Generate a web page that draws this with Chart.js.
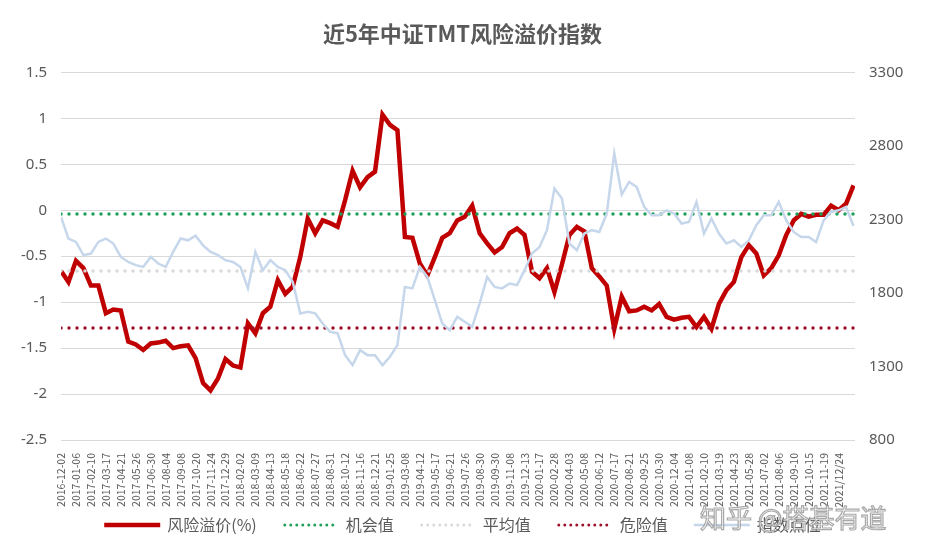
<!DOCTYPE html>
<html>
<head>
    <meta charset="UTF-8">
    <title>近5年中证TMT风险溢价指数</title>
    <script src="https://cdn.jsdelivr.net/npm/chart.js"></script>
    <style>
        html, body { margin: 0; padding: 0; background: #fff; }
        #wrap { width: 925px; height: 557px; }
    </style>
</head>
<body>
<div id="wrap"><canvas id="tmtChart"></canvas></div>

<script>
    // tick labels on the date axis (one every 5 weeks)
    const dateLabels = [
        '2016-12-02', '2017-01-06', '2017-02-10', '2017-03-17', '2017-04-21', '2017-05-26', '2017-06-30',
        '2017-08-04', '2017-09-08', '2017-10-20', '2017-11-24', '2017-12-29', '2018-02-02', '2018-03-09',
        '2018-04-13', '2018-05-18', '2018-06-22', '2018-07-27', '2018-08-31', '2018-10-12', '2018-11-16',
        '2018-12-21', '2019-01-25', '2019-03-08', '2019-04-12', '2019-05-17', '2019-06-21', '2019-07-26',
        '2019-08-30', '2019-09-30', '2019-11-08', '2019-12-13', '2020-01-17', '2020-02-28', '2020-04-03',
        '2020-05-08', '2020-06-12', '2020-07-17', '2020-08-21', '2020-09-25', '2020-10-30', '2020-12-04',
        '2021-01-08', '2021-02-10', '2021-03-19', '2021-04-23', '2021-05-28', '2021-07-02', '2021-08-06',
        '2021-09-10', '2021-10-15', '2021-11-19', '2021/12/24'
    ];

    // readings taken every half label interval
    const sampleStep = 0.5;

    // 风险溢价(%) - left axis
    const riskPremium = [
        -0.66, -0.78, -0.55, -0.63, -0.82, -0.82, -1.12, -1.08, -1.09, -1.43,
        -1.46, -1.52, -1.45, -1.44, -1.42, -1.50, -1.48, -1.47, -1.61, -1.88,
        -1.96, -1.83, -1.62, -1.69, -1.71, -1.23, -1.34, -1.12, -1.05, -0.76,
        -0.91, -0.83, -0.51, -0.09, -0.25, -0.11, -0.14, -0.18, 0.11, 0.43,
        0.25, 0.36, 0.42, 1.04, 0.93, 0.87, -0.29, -0.30, -0.58, -0.71,
        -0.51, -0.30, -0.25, -0.11, -0.07, 0.05, -0.25, -0.36, -0.46, -0.40,
        -0.25, -0.20, -0.27, -0.67, -0.74, -0.63, -0.89, -0.59, -0.27, -0.18,
        -0.23, -0.63, -0.72, -0.82, -1.29, -0.94, -1.10, -1.09, -1.05, -1.09,
        -1.02, -1.16, -1.19, -1.17, -1.16, -1.27, -1.16, -1.29, -1.02, -0.87,
        -0.78, -0.51, -0.38, -0.47, -0.71, -0.63, -0.49, -0.27, -0.11, -0.04,
        -0.07, -0.05, -0.05, 0.05, 0.00, 0.07, 0.27
    ];

    // 指数点位 - right axis
    const indexLevel = [
        2317, 2170, 2147, 2057, 2068, 2147, 2170, 2136, 2045, 2011,
        1989, 1977, 2045, 2000, 1977, 2079, 2170, 2158, 2190, 2124,
        2079, 2057, 2023, 2011, 1977, 1831, 2079, 1955, 2023, 1977,
        1955, 1875, 1661, 1672, 1661, 1592, 1536, 1525, 1377, 1309,
        1411, 1377, 1377, 1309, 1366, 1445, 1841, 1831, 1977, 1909,
        1751, 1592, 1547, 1638, 1604, 1570, 1729, 1909, 1841, 1831,
        1864, 1853, 1955, 2068, 2113, 2227, 2510, 2442, 2136, 2091,
        2204, 2227, 2215, 2340, 2748, 2470, 2555, 2521, 2385, 2328,
        2328, 2362, 2340, 2272, 2283, 2419, 2204, 2306, 2204, 2136,
        2158, 2113, 2158, 2261, 2328, 2328, 2419, 2294, 2215, 2181,
        2181, 2147, 2294, 2351, 2362, 2385, 2255
    ];

    // reference levels
    const chanceValue = -0.04;   // 机会值
    const averageValue = -0.66;  // 平均值
    const dangerValue = -1.28;   // 危险值

    const leftTicks = [-2.5, -2, -1.5, -1, -0.5, 0, 0.5, 1, 1.5];
    const rightTicks = [800, 1300, 1800, 2300, 2800, 3300];

    const toPoints = arr => arr.map((v, i) => ({ x: i * sampleStep, y: v }));
    const lastX = (riskPremium.length - 1) * sampleStep;
    const flatLine = v => [{ x: 0, y: v }, { x: lastX, y: v }];

    const baseFont = "'Microsoft YaHei', 'Noto Sans CJK SC', 'Noto Sans', sans-serif";

    // legend row under the chart (dotted samples like the excel original)
    const legendRow = {
        id: 'legendRow',
        afterDraw(chart) {
            const c = chart.ctx;
            const y = 525, sampleW = 56, gap = 7, spacing = 26;
            c.save();
            c.font = '16px ' + baseFont;
            const items = chart.data.datasets.map(ds => ({
                ds: ds,
                w: sampleW + gap + c.measureText(ds.label).width
            }));
            const total = items.reduce((s, it) => s + it.w, 0) + spacing * (items.length - 1);
            let x = (chart.width - total) / 2;
            items.forEach(({ ds, w }) => {
                const dotted = !!ds.borderDash;
                c.beginPath();
                c.lineWidth = dotted ? 3 : ds.borderWidth;
                c.strokeStyle = ds.borderColor;
                c.lineCap = dotted ? 'round' : 'butt';
                c.setLineDash(dotted ? [0, 6] : []);
                c.moveTo(x + (dotted ? 2 : 0), y);
                c.lineTo(x + sampleW, y);
                c.stroke();
                c.setLineDash([]);
                c.fillStyle = '#595959';
                c.textAlign = 'left';
                c.textBaseline = 'middle';
                c.fillText(ds.label, x + sampleW + gap, y);
                x += w + spacing;
            });
            c.restore();
        }
    };

    // watermark drawn over the chart
    const watermark = {
        id: 'watermark',
        afterDraw(chart) {
            const c = chart.ctx;
            c.save();
            c.font = "26px " + baseFont;
            c.textAlign = 'left';
            c.textBaseline = 'middle';
            c.lineWidth = 1.2;
            c.strokeStyle = 'rgba(140,140,140,0.75)';
            c.fillStyle = 'rgba(255,255,255,0.85)';
            c.fillText('知乎 @搭基有道', 700, 518);
            c.strokeText('知乎 @搭基有道', 700, 518);
            c.restore();
        }
    };

    const ctx = document.getElementById('tmtChart').getContext('2d');
    new Chart(ctx, {
        type: 'line',
        data: {
            datasets: [
                {
                    label: '风险溢价(%)',
                    data: toPoints(riskPremium),
                    yAxisID: 'y',
                    borderColor: '#C00000',
                    borderWidth: 4.5,
                    order: 4
                },
                {
                    label: '机会值',
                    data: flatLine(chanceValue),
                    yAxisID: 'y',
                    borderColor: '#1FA05A',
                    borderWidth: 3.5,
                    borderDash: [0, 8],
                    borderCapStyle: 'round',
                    order: 3
                },
                {
                    label: '平均值',
                    data: flatLine(averageValue),
                    yAxisID: 'y',
                    borderColor: '#D9D9D9',
                    borderWidth: 3.5,
                    borderDash: [0, 8],
                    borderCapStyle: 'round',
                    order: 2
                },
                {
                    label: '危险值',
                    data: flatLine(dangerValue),
                    yAxisID: 'y',
                    borderColor: '#A0102A',
                    borderWidth: 3.5,
                    borderDash: [0, 8],
                    borderCapStyle: 'round',
                    order: 1
                },
                {
                    label: '指数点位',
                    data: toPoints(indexLevel),
                    yAxisID: 'y2',
                    borderColor: '#C6D7EB',
                    borderWidth: 2.5,
                    order: 0
                }
            ]
        },
        options: {
            responsive: true,
            maintainAspectRatio: false,
            animation: false,
            layout: { padding: { left: 0, right: 0, top: 0, bottom: 47 } },
            elements: {
                point: { radius: 0 },
                line: { tension: 0, fill: false }
            },
            plugins: {
                tooltip: { enabled: false },
                legend: { display: false },
                title: {
                    display: true,
                    text: '近5年中证TMT风险溢价指数',
                    color: '#595959',
                    font: { size: 22, weight: 'bold', family: baseFont },
                    padding: { top: 20, bottom: 26 }
                }
            },
            scales: {
                x: {
                    type: 'linear',
                    min: 0,
                    max: lastX + 0.1,
                    grid: { display: false },
                    border: { display: false },
                    afterFit: s => { s.height = 70; },
                    ticks: {
                        stepSize: 1,
                        autoSkip: false,
                        includeBounds: false,
                        minRotation: 90,
                        maxRotation: 90,
                        padding: 5,
                        color: '#595959',
                        font: { size: 10.5, family: baseFont },
                        callback: v => dateLabels[v] ?? ''
                    }
                },
                y: {
                    position: 'left',
                    min: leftTicks[0],
                    max: leftTicks[leftTicks.length - 1],
                    grid: { color: '#D9D9D9', lineWidth: 1, drawTicks: false },
                    border: { display: false },
                    afterFit: s => { s.width = 61; },
                    afterBuildTicks: s => { s.ticks = leftTicks.map(v => ({ value: v })); },
                    ticks: {
                        padding: 14,
                        color: '#595959',
                        font: { size: 15, family: "'Noto Sans', sans-serif" },
                        callback: v => String(v)
                    }
                },
                y2: {
                    position: 'right',
                    min: rightTicks[0],
                    max: rightTicks[rightTicks.length - 1],
                    grid: { display: false, drawTicks: false },
                    border: { display: false },
                    afterFit: s => { s.width = 70; },
                    afterBuildTicks: s => { s.ticks = rightTicks.map(v => ({ value: v })); },
                    ticks: {
                        padding: 14,
                        color: '#595959',
                        font: { size: 15, family: "'Noto Sans', sans-serif" },
                        callback: v => String(v)
                    }
                }
            }
        },
        plugins: [legendRow, watermark]
    });
</script>
</body>
</html>
